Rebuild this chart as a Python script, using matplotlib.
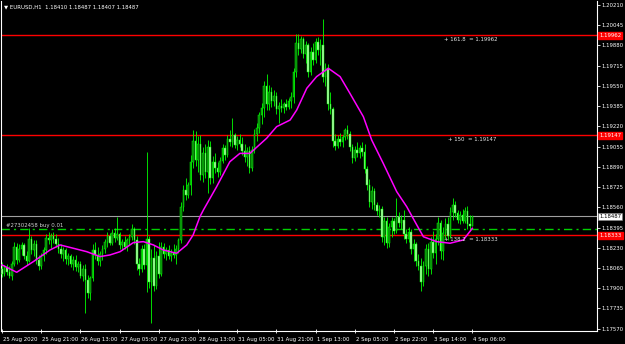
import matplotlib
matplotlib.use('Agg')
import matplotlib.pyplot as plt
import matplotlib.transforms as mtransforms

# EURUSD H1, 193 bars from 25 Aug 2020 05:00 (bar index 0) to 4 Sep 06:00
highs = [1.1811, 1.1809, 1.1810, 1.1808, 1.1812, 1.1828, 1.1827, 1.1826, 1.1828, 1.1827,
         1.1820, 1.1839, 1.1833, 1.1829, 1.1829, 1.1817, 1.1819, 1.1824, 1.1834, 1.1836,
         1.1835, 1.1836, 1.1834, 1.1831, 1.1826, 1.1824, 1.1823, 1.1819, 1.1818, 1.1816,
         1.1817, 1.1812, 1.1812, 1.1809, 1.1810, 1.1801, 1.1800, 1.1826, 1.1828, 1.1824,
         1.1820, 1.1825, 1.1830, 1.1836, 1.1835, 1.1838, 1.1839, 1.1848, 1.1836, 1.1830,
         1.1833, 1.1831, 1.1834, 1.1842, 1.1840, 1.1833, 1.1815, 1.1825, 1.1826, 1.1901,
         1.1833, 1.1822, 1.1825, 1.1820, 1.1828, 1.1828, 1.1827, 1.1824, 1.1825, 1.1822,
         1.1826, 1.1825, 1.1831, 1.1860, 1.1874, 1.1880, 1.1877, 1.1899, 1.1919, 1.1918,
         1.1914, 1.1915, 1.1905, 1.1908, 1.1911, 1.1910, 1.1898, 1.1900, 1.1893, 1.1897,
         1.1908, 1.1907, 1.1915, 1.1919, 1.1929, 1.1917, 1.1914, 1.1916, 1.1913, 1.1908,
         1.1905, 1.1906, 1.1906, 1.1920, 1.1925, 1.1934, 1.1941, 1.1959, 1.1965, 1.1956,
         1.1954, 1.1952, 1.1950, 1.1942, 1.1944, 1.1942, 1.1944, 1.1945, 1.1950, 1.1970,
         1.1997, 1.1997, 1.1996, 1.1995, 1.1992, 1.1990, 1.1987, 1.1990, 1.1994, 1.1995,
         1.1993, 1.2010, 1.1974, 1.1973, 1.1950, 1.1938, 1.1916, 1.1915, 1.1917, 1.1915,
         1.1921, 1.1923, 1.1918, 1.1908, 1.1906, 1.1909, 1.1907, 1.1909, 1.1908, 1.1890,
         1.1879, 1.1873, 1.1872, 1.1860, 1.1858, 1.1857, 1.1848, 1.1848, 1.1843, 1.1848,
         1.1847, 1.1864, 1.1852, 1.1850, 1.1854, 1.1838, 1.1840, 1.1838, 1.1830, 1.1828,
         1.1818, 1.1815, 1.1812, 1.1826, 1.1827, 1.1832, 1.1837, 1.1834, 1.1848, 1.1846,
         1.1840, 1.1847, 1.1848, 1.1856, 1.1864, 1.1861, 1.1854, 1.1853, 1.1855, 1.1856,
         1.1857, 1.1850, 1.18487]
lows = [1.1799, 1.1800, 1.1801, 1.1798, 1.1797, 1.1808, 1.1810, 1.1811, 1.1817, 1.1814,
        1.1809, 1.1811, 1.1818, 1.1816, 1.1810, 1.1805, 1.1806, 1.1812, 1.1818, 1.1826,
        1.1823, 1.1827, 1.1824, 1.1819, 1.1815, 1.1812, 1.1810, 1.1809, 1.1807, 1.1805,
        1.1804, 1.1803, 1.1798, 1.1796, 1.1770, 1.1782, 1.1780, 1.1796, 1.1814, 1.1809,
        1.1808, 1.1813, 1.1819, 1.1824, 1.1825, 1.1825, 1.1828, 1.1829, 1.1822, 1.1821,
        1.1822, 1.1820, 1.1825, 1.1829, 1.1826, 1.1805, 1.1801, 1.1803, 1.1806, 1.1787,
        1.1790, 1.1762, 1.1788, 1.1789, 1.1798, 1.1800, 1.1815, 1.1813, 1.1814, 1.1812,
        1.1815, 1.1810, 1.1819, 1.1827, 1.1853, 1.1862, 1.1864, 1.1866, 1.1888, 1.1890,
        1.1885, 1.1878, 1.1877, 1.1880, 1.1868, 1.1875, 1.1876, 1.1884, 1.1881, 1.1882,
        1.1892, 1.1895, 1.1897, 1.1906, 1.1905, 1.1904, 1.1903, 1.1905, 1.1899, 1.1893,
        1.1890, 1.1884, 1.1886, 1.1900, 1.1910, 1.1917, 1.1924, 1.1930, 1.1935, 1.1935,
        1.1938, 1.1939, 1.1932, 1.1925, 1.1934, 1.1933, 1.1935, 1.1936, 1.1937, 1.1941,
        1.1962, 1.1980, 1.1982, 1.1978, 1.1974, 1.1962, 1.1964, 1.1972, 1.1974, 1.1980,
        1.1972, 1.1958, 1.1955, 1.1935, 1.1932, 1.1905, 1.1903, 1.1904, 1.1906, 1.1905,
        1.1911, 1.1912, 1.1902, 1.1892, 1.1894, 1.1897, 1.1896, 1.1898, 1.1884, 1.1870,
        1.1856, 1.1855, 1.1854, 1.1850, 1.1848, 1.1828, 1.1825, 1.1823, 1.1824, 1.1832,
        1.1834, 1.1835, 1.1840, 1.1838, 1.1830, 1.1827, 1.1828, 1.1818, 1.1812, 1.1808,
        1.1805, 1.1788, 1.1792, 1.1802, 1.1800, 1.1802, 1.1815, 1.1810, 1.1825, 1.1814,
        1.1813, 1.1830, 1.1829, 1.1831, 1.1846, 1.1848, 1.1843, 1.1842, 1.1843, 1.1843,
        1.1838, 1.1837, 1.18407]
closes = [1.1802, 1.1807, 1.1803, 1.1800, 1.1810, 1.1824, 1.1813, 1.1822, 1.1825, 1.1816,
          1.1812, 1.1830, 1.1821, 1.1826, 1.1813, 1.1808, 1.1816, 1.1821, 1.1831, 1.1829,
          1.1833, 1.1830, 1.1826, 1.1822, 1.1818, 1.1821, 1.1814, 1.1816, 1.1810, 1.1813,
          1.1807, 1.1810, 1.1800, 1.1806, 1.1797, 1.1786, 1.1798, 1.1821, 1.1817, 1.1812,
          1.1818, 1.1822, 1.1828, 1.1833, 1.1827, 1.1835, 1.1831, 1.1834, 1.1825, 1.1828,
          1.1824, 1.1829, 1.1832, 1.1838, 1.1829, 1.1810, 1.1806, 1.1822, 1.1809, 1.1830,
          1.1795, 1.1815, 1.1792, 1.1816, 1.1802, 1.1824, 1.1818, 1.1821, 1.1816, 1.1819,
          1.1817, 1.1822, 1.1829, 1.1856, 1.1870, 1.1866, 1.1874, 1.1893, 1.1910, 1.1895,
          1.1908, 1.1882, 1.1900, 1.1885, 1.1905, 1.1880, 1.1893, 1.1888, 1.1885, 1.1894,
          1.1904, 1.1899, 1.1912, 1.1909, 1.1915, 1.1907, 1.1911, 1.1908, 1.1902, 1.1897,
          1.1902, 1.1888, 1.1903, 1.1916, 1.1921, 1.1931, 1.1937, 1.1955, 1.1940, 1.1950,
          1.1943, 1.1947, 1.1936, 1.1939, 1.1937, 1.1940, 1.1938, 1.1943, 1.1946, 1.1966,
          1.1990, 1.1985, 1.1993, 1.1981, 1.1988, 1.1966, 1.1983, 1.1976, 1.1991, 1.1984,
          1.1988, 1.1962, 1.1970, 1.1940, 1.1936, 1.1910, 1.1906, 1.1912, 1.1909, 1.1913,
          1.1919, 1.1916, 1.1905, 1.1896, 1.1903, 1.1900, 1.1904, 1.1901, 1.1887, 1.1874,
          1.1860, 1.1869, 1.1858, 1.1853, 1.1855, 1.1832, 1.1845, 1.1827, 1.1840, 1.1845,
          1.1837, 1.1848, 1.1843, 1.1846, 1.1834, 1.1830, 1.1836, 1.1822, 1.1826, 1.1812,
          1.1808, 1.1795, 1.1808, 1.1822, 1.1806, 1.1828, 1.1819, 1.1830, 1.1843, 1.1820,
          1.1835, 1.1842, 1.1833, 1.1852, 1.1858, 1.1851, 1.1846, 1.1850, 1.1845, 1.1853,
          1.1842, 1.1841, 1.18487]
first_open = 1.1806
# each hour opens where the previous one closed
opens = [first_open] + closes[:-1]
opens[-1] = 1.18410

# magenta moving average, read at these bar positions
ma_bars = [0, 6, 12.8, 19.6, 23.7, 29.1, 34.6, 40, 44, 48.2, 53.6, 57.7, 61.8, 65.8,
           71.3, 75.4, 78, 80.8, 82.2, 87.6, 93, 97.1, 101.2, 108, 112.1, 117.6, 120.3,
           124.4, 128.4, 133.2, 138, 142, 147.5, 150.9, 155.6, 161.1, 165.2, 169.3, 172,
           177.4, 182.9, 188.3, 192]
ma_vals = [1.18090, 1.18030, 1.18117, 1.18212, 1.18253, 1.18226, 1.18198, 1.18158,
           1.18171, 1.18198, 1.18272, 1.18280, 1.18253, 1.18212, 1.18185, 1.18253,
           1.18334, 1.18484, 1.18538, 1.18728, 1.18932, 1.19000, 1.19000, 1.19123,
           1.19218, 1.19272, 1.19354, 1.19531, 1.19626, 1.19694, 1.19626, 1.19490,
           1.19299, 1.19109, 1.18919, 1.18688, 1.18565, 1.18416, 1.18320, 1.18280,
           1.18267, 1.18294, 1.18389]

fibo_levels = [1.19962, 1.19147, 1.18333]
fibo_names = ['161.8', '150', '138.2']
bid = 1.18487
order_price = 1.18380

price_ticks = [1.20210, 1.20045, 1.19880, 1.19715, 1.19550, 1.19385, 1.19220, 1.19055,
               1.18890, 1.18725, 1.18560, 1.18395, 1.18230, 1.18065, 1.17900, 1.17735,
               1.17570]
time_pos = [0, 16, 32, 48, 64, 80, 96, 112, 128, 144, 160, 176, 192]
time_labels = ['25 Aug 2020', '25 Aug 21:00', '26 Aug 13:00', '27 Aug 05:00',
               '27 Aug 21:00', '28 Aug 13:00', '31 Aug 05:00', '31 Aug 21:00',
               '1 Sep 13:00', '2 Sep 05:00', '2 Sep 22:00', '3 Sep 14:00', '4 Sep 06:00']

fs = 3.9
fig = plt.figure(figsize=(6.25, 3.44), dpi=100, facecolor='black')
ax = fig.add_axes([1 / 625, 13 / 344, 596 / 625, 330 / 344], facecolor='black')

n = len(closes)
bars = list(range(n))
ax.vlines(bars, lows, highs, color='#00ff00', lw=0.6, zorder=3)
bottoms = [min(o, c) for o, c in zip(opens, closes)]
heights = [max(abs(c - o), 0.00002) for o, c in zip(opens, closes)]
fills = ['#0b7a0b' if c >= o else '#b8f5b0' for o, c in zip(opens, closes)]
ax.bar(bars, heights, bottom=bottoms, width=0.62, color=fills,
       edgecolor='#00ff00', linewidth=0.35, zorder=4)

ax.plot(ma_bars, ma_vals, color='#ff00ff', lw=1.1, zorder=5)

for lvl in fibo_levels:
    ax.axhline(lvl, color='#ff0000', lw=1.0, zorder=2)
ax.axhline(bid, color='#a0a0a0', lw=0.8, zorder=2)
ax.axhline(order_price, color='#00d000', lw=1.0, ls=(0, (6, 3, 1.5, 3)), zorder=2)

for lvl, name, xb in zip(fibo_levels, fibo_names, [180.4, 182.0, 180.4]):
    ax.annotate('+ %s  = %.5f' % (name, lvl), xy=(xb, lvl), xytext=(0, -1.2),
                textcoords='offset points', va='top', ha='left',
                color='#e8e8e8', fontsize=fs, zorder=6)
ax.annotate('#27302458 buy 0.01', xy=(1.6, order_price), xytext=(0, 1.3),
            textcoords='offset points', va='bottom', ha='left',
            color='#d0d0d0', fontsize=fs, zorder=6)

ax.set_xlim(-0.41, 242.86)
ax.set_ylim(1.17551, 1.20243)

ax.spines['top'].set_visible(False)
for s in ['left', 'right', 'bottom']:
    ax.spines[s].set_color('white')
    ax.spines[s].set_linewidth(0.8)

ax.yaxis.tick_right()
ax.set_yticks(price_ticks)
ax.set_yticklabels(['%.5f' % p for p in price_ticks])
ax.tick_params(axis='y', colors='white', labelcolor='white', labelsize=fs,
               length=2, width=0.6, pad=1.2, direction='out')
ax.set_xticks(time_pos)
ax.set_xticklabels([])
ax.tick_params(axis='x', colors='white', length=2.5, width=0.6, direction='inout')

trans_y = mtransforms.blended_transform_factory(ax.transAxes, ax.transData)
for lvl in fibo_levels:
    ax.text(1.004, lvl, '%.5f' % lvl, transform=trans_y, va='center', ha='left',
            fontsize=fs, color='white', zorder=7, clip_on=False,
            bbox=dict(boxstyle='square,pad=0.18', fc='#ff0000', ec='#ff0000'))
ax.text(1.004, bid, '%.5f' % bid, transform=trans_y, va='center', ha='left',
        fontsize=fs, color='black', zorder=7, clip_on=False,
        bbox=dict(boxstyle='square,pad=0.18', fc='white', ec='#808080', lw=0.4))

trans_x = mtransforms.blended_transform_factory(ax.transData, ax.transAxes)
for pos, lab in zip(time_pos, time_labels):
    ax.text(pos + 0.4, -0.018, lab, transform=trans_x, va='top', ha='left',
            fontsize=fs, color='white', clip_on=False)

fig.text(4 / 625, 1 - 7 / 344, '\u25bc EURUSD,H1  1.18410 1.18487 1.18407 1.18487',
         fontsize=fs, color='white', va='center', ha='left')

fig.savefig('out.png', dpi=100, facecolor='black')
